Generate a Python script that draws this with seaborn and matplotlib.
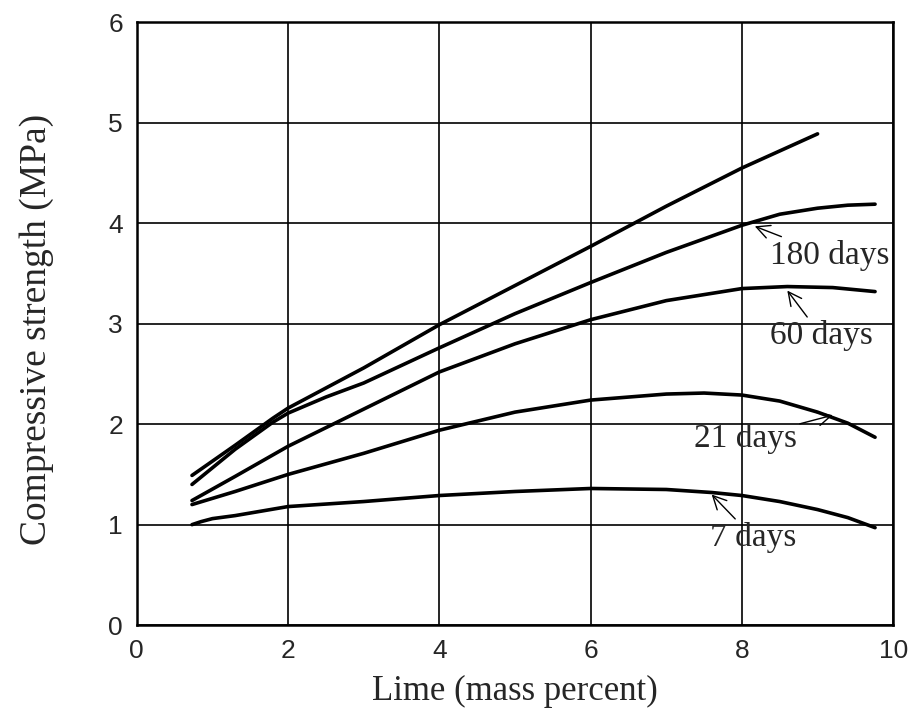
import matplotlib
matplotlib.use("Agg")
import matplotlib.pyplot as plt
from matplotlib.ticker import MultipleLocator
import pandas as pd
import seaborn as sns

# Lime content (mass percent) and compressive strength (MPa) for each curing age
lime_upper = [0.73, 1.3, 1.8, 2.0, 3.0, 4.0, 5.0, 6.0, 7.0, 8.0, 9.0]
mpa_upper = [1.49, 1.79, 2.06, 2.16, 2.56, 2.99, 3.38, 3.77, 4.17, 4.55, 4.89]

lime_180 = [0.73, 1.3, 1.8, 2.0, 2.5, 3.0, 4.0, 5.0, 6.0, 7.0, 8.0, 8.5, 9.0, 9.4, 9.76]
mpa_180 = [1.40, 1.75, 2.02, 2.11, 2.27, 2.41, 2.76, 3.10, 3.41, 3.71, 3.98, 4.09, 4.15, 4.18, 4.19]

lime_60 = [0.73, 1.3, 2.0, 3.0, 4.0, 5.0, 6.0, 7.0, 8.0, 8.6, 9.2, 9.76]
mpa_60 = [1.24, 1.48, 1.78, 2.15, 2.52, 2.80, 3.04, 3.23, 3.35, 3.37, 3.36, 3.32]

lime_21 = [0.73, 1.3, 2.0, 3.0, 4.0, 5.0, 6.0, 7.0, 7.5, 8.0, 8.5, 9.0, 9.4, 9.76]
mpa_21 = [1.20, 1.33, 1.50, 1.71, 1.94, 2.12, 2.24, 2.30, 2.31, 2.29, 2.23, 2.12, 2.01, 1.87]

lime_7 = [0.73, 0.85, 1.0, 1.3, 2.0, 3.0, 4.0, 5.0, 6.0, 7.0, 7.6, 8.0, 8.5, 9.0, 9.4, 9.76]
mpa_7 = [1.00, 1.03, 1.06, 1.09, 1.18, 1.23, 1.29, 1.33, 1.36, 1.35, 1.32, 1.29, 1.23, 1.15, 1.07, 0.97]

x_ticks = [0, 2, 4, 6, 8, 10]
y_ticks = [0, 1, 2, 3, 4, 5, 6]

series = {
    "upper": (lime_upper, mpa_upper),
    "180 days": (lime_180, mpa_180),
    "60 days": (lime_60, mpa_60),
    "21 days": (lime_21, mpa_21),
    "7 days": (lime_7, mpa_7),
}
frames = [pd.DataFrame({"lime": xs, "strength": ys, "age": name})
          for name, (xs, ys) in series.items()]
data = pd.concat(frames, ignore_index=True)

sns.set_theme(style="white")
plt.rcParams["font.family"] = ["Liberation Serif", "DejaVu Serif"]

fig = plt.figure(figsize=(9.18, 7.21), dpi=100)
ax = fig.add_axes([0.149, 0.133, 0.824, 0.836])

sns.lineplot(data=data, x="lime", y="strength", hue="age", units="age",
             estimator=None, sort=False, palette=["black"] * len(series),
             linewidth=2.6, legend=False, ax=ax)

ax.set_xlim(0, 10)
ax.set_ylim(0, 6)
ax.set_xticks(x_ticks)
ax.set_yticks(y_ticks)
ax.xaxis.set_minor_locator(MultipleLocator(1))
ax.yaxis.set_minor_locator(MultipleLocator(0.5))

ax.grid(True, which="major", color="black", linewidth=1.2)
ax.set_axisbelow(True)
for sp in ax.spines.values():
    sp.set_color("black")
    sp.set_linewidth(1.8)

tick_font = {"family": "Liberation Sans", "size": 19}
ax.tick_params(axis="both", which="major", direction="in", length=6,
               width=1.2, color="black", pad=10)
ax.tick_params(axis="both", which="minor", direction="in", length=7,
               width=1.2, color="black")
ax.set_xticklabels([str(v) for v in x_ticks], fontdict=tick_font)
ax.set_yticklabels([str(v) for v in y_ticks], fontdict=tick_font)

ax.set_xlabel("Lime (mass percent)", fontsize=25)
ax.set_ylabel("Compressive strength (MPa)", fontsize=27)
ax.xaxis.set_label_coords(0.5, -0.082)
ax.yaxis.set_label_coords(-0.11, 0.49)

arrow = dict(arrowstyle="->", color="black", lw=1.0, shrinkA=0, shrinkB=0)
ax.annotate("180 days", xy=(8.17, 3.97), xytext=(8.37, 3.68),
            fontsize=24, va="center", ha="left", arrowprops=arrow)
ax.annotate("60 days", xy=(8.6, 3.33), xytext=(8.37, 2.88),
            fontsize=24, va="center", ha="left", arrowprops=arrow)
ax.annotate("21 days", xy=(9.2, 2.09), xytext=(7.36, 1.86),
            fontsize=24, va="center", ha="left", arrowprops=arrow)
ax.annotate("7 days", xy=(7.6, 1.30), xytext=(7.58, 0.87),
            fontsize=24, va="center", ha="left", arrowprops=arrow)

fig.savefig("out.png", dpi=100, facecolor="white")
